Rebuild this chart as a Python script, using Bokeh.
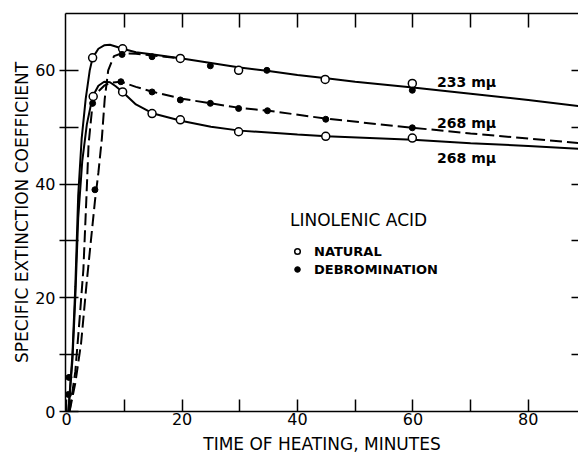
from bokeh.plotting import figure
from bokeh.models import LinearAxis, FixedTicker, Label, Legend, LegendItem, Range1d
from bokeh.embed import file_html
from bokeh.resources import INLINE

# ---------------- data ----------------
# smooth curves
c233_nat_t = [0.3, 1.0, 1.5, 2.0, 2.6, 3.3, 4.0, 4.5, 5.5, 6.5, 7.5, 8.5, 9.7, 12, 15, 20, 25, 30, 35, 40, 45, 50, 60, 70, 80, 89]
c233_nat_v = [0, 10, 22, 38, 48, 55, 60, 62.2, 63.8, 64.4, 64.5, 64.2, 63.8, 63.2, 62.8, 62.1, 61.3, 60.5, 59.9, 59.2, 58.6, 58.0, 57.0, 55.9, 54.8, 53.7]

c268_nat_t = [0.3, 1.0, 1.5, 2.0, 2.7, 3.5, 4.5, 5.5, 6.5, 7.5, 8.5, 9.7, 12, 15, 20, 25, 30, 40, 45, 60, 70, 80, 89]
c268_nat_v = [0, 9, 20, 34, 44, 50.5, 55.4, 57.3, 58.0, 57.9, 57.2, 56.2, 54.0, 52.4, 51.1, 50.1, 49.4, 48.7, 48.4, 47.8, 47.2, 46.7, 46.2]

c233_deb_t = [0.5, 1.5, 2.5, 3.5, 4.3, 4.9, 5.5, 6.1, 6.6, 7.2, 8.2, 9.6, 12, 15, 20]
c233_deb_v = [0, 5, 12, 23, 31, 37, 42, 48, 55, 60, 62.5, 63.0, 62.9, 62.6, 62.1]

c268_deb_t = [0.5, 1.5, 2.3, 2.9, 3.4, 3.8, 4.5, 5.5, 6.5, 7.5, 9.4, 12, 15, 20, 25, 30, 35, 45, 60, 70, 80, 89]
c268_deb_v = [0, 7, 17, 25, 37, 47, 54.2, 56.3, 57.3, 57.8, 58.0, 57.1, 56.2, 55.0, 54.2, 53.4, 52.9, 51.5, 49.9, 48.9, 48.0, 47.2]

# measured points
nat233_t = [4.5, 9.7, 19.7, 29.8, 44.8, 59.9]
nat233_v = [62.2, 63.8, 62.1, 60.0, 58.4, 57.7]
nat268_t = [4.6, 9.7, 14.8, 19.7, 29.8, 44.9, 59.9]
nat268_v = [55.4, 56.2, 52.4, 51.3, 49.2, 48.4, 48.1]
deb233_t = [0.4, 4.9, 9.6, 14.8, 24.9, 34.7, 59.9]
deb233_v = [6.0, 39.0, 62.8, 62.4, 60.8, 60.0, 56.5]
deb268_t = [0.3, 4.5, 9.4, 14.8, 19.7, 24.9, 29.8, 34.8, 44.9, 59.9]
deb268_v = [3.0, 54.2, 58.0, 56.2, 54.8, 54.2, 53.3, 52.9, 51.4, 49.9]

# curve labels
curve_labels = ["233 m\u03bc", "268 m\u03bc", "268 m\u03bc"]
curve_label_t = [64.2, 64.2, 64.2]
curve_label_v = [58.0, 50.8, 44.6]

# ticks (labelled ones and unlabelled ones)
x_label_ticks = [0, 20, 40, 60, 80]
x_plain_ticks = [10, 30, 50, 70]
y_label_ticks = [0, 20, 40, 60]
y_plain_ticks = [10, 30, 50]

FONT = "DejaVu Sans"
INK = "black"

p = figure(width=578, height=456, output_backend="svg", toolbar_location=None,
           x_range=Range1d(-0.2, 88.7), y_range=Range1d(0, 70),
           min_border_left=65, min_border_right=0, min_border_top=13, min_border_bottom=44,
           outline_line_color=None, background_fill_color="white", border_fill_color="white")
p.xgrid.visible = False
p.ygrid.visible = False

# bottom axis
xa = p.xaxis[0]
xa.ticker = FixedTicker(ticks=x_label_ticks, minor_ticks=x_plain_ticks)
xa.major_tick_in = 12
xa.major_tick_out = 0
xa.minor_tick_in = 12
xa.minor_tick_out = 0
xa.minor_tick_line_width = 1.5
xa.minor_tick_line_color = INK
xa.axis_line_width = 1.5
xa.axis_line_color = INK
xa.major_tick_line_width = 1.5
xa.major_tick_line_color = INK
xa.major_label_standoff = 1
xa.major_label_text_font = FONT
xa.major_label_text_font_size = "16px"
xa.major_label_text_color = INK
xa.axis_label = "TIME OF HEATING, MINUTES"
xa.axis_label_text_font = FONT
xa.axis_label_text_font_size = "17px"
xa.axis_label_text_font_style = "normal"
xa.axis_label_text_color = INK
xa.axis_label_standoff = 6

# left axis
ya = p.yaxis[0]
ya.ticker = FixedTicker(ticks=y_label_ticks, minor_ticks=y_plain_ticks)
ya.major_tick_in = 13
ya.major_tick_out = 6
ya.minor_tick_in = 13
ya.minor_tick_out = 6
ya.minor_tick_line_width = 1.5
ya.minor_tick_line_color = INK
ya.axis_line_width = 1.5
ya.axis_line_color = INK
ya.major_tick_line_width = 1.5
ya.major_tick_line_color = INK
ya.major_label_standoff = 4
ya.major_label_text_font = FONT
ya.major_label_text_font_size = "16px"
ya.major_label_text_color = INK
ya.axis_label = "SPECIFIC EXTINCTION COEFFICIENT"
ya.axis_label_text_font = FONT
ya.axis_label_text_font_size = "17px"
ya.axis_label_text_font_style = "normal"
ya.axis_label_text_color = INK
ya.axis_label_standoff = 0

# top axis (ticks only, no labels)
ta = LinearAxis(ticker=FixedTicker(ticks=[], minor_ticks=x_plain_ticks + x_label_ticks[1:]),
                major_tick_in=0, major_tick_out=0, minor_tick_in=14, minor_tick_out=0,
                minor_tick_line_width=1.5, minor_tick_line_color=INK,
                axis_line_width=1.5, axis_line_color=INK, major_label_standoff=0)
p.add_layout(ta, "above")

# right axis (ticks only, no labels, line off the page)
ra = LinearAxis(ticker=FixedTicker(ticks=[], minor_ticks=y_plain_ticks + y_label_ticks[1:]),
                major_tick_in=0, major_tick_out=0, minor_tick_in=7, minor_tick_out=0,
                minor_tick_line_width=1.5, minor_tick_line_color=INK,
                axis_line_color=None, major_label_standoff=0)
p.add_layout(ra, "right")

# curves
p.line(c233_nat_t, c233_nat_v, line_color=INK, line_width=2)
p.line(c268_nat_t, c268_nat_v, line_color=INK, line_width=2)
p.line(c233_deb_t, c233_deb_v, line_color=INK, line_width=2, line_dash="12 5")
p.line(c268_deb_t, c268_deb_v, line_color=INK, line_width=2, line_dash="12 5")

# points
r_nat = p.scatter(nat233_t + nat268_t, nat233_v + nat268_v, marker="circle", size=8,
                  fill_color="white", line_color=INK, line_width=1.5)
r_deb = p.scatter(deb233_t + deb268_t, deb233_v + deb268_v, marker="circle", size=6,
                  fill_color=INK, line_color=INK)

for txt, t, v in zip(curve_labels, curve_label_t, curve_label_v):
    p.add_layout(Label(x=t, y=v, text=txt, text_font=FONT, text_font_size="14px",
                       text_font_style="bold", text_color=INK,
                       text_baseline="middle", text_align="left"))

legend = Legend(items=[LegendItem(label="NATURAL", renderers=[r_nat]),
                       LegendItem(label="DEBROMINATION", renderers=[r_deb])],
                location=(225, 134), title="LINOLENIC ACID",
                title_text_font=FONT, title_text_font_size="17px", title_text_font_style="normal",
                title_text_color=INK, title_standoff=13,
                label_text_font=FONT, label_text_font_size="13px", label_text_font_style="bold",
                label_text_color=INK,
                glyph_width=14, glyph_height=16, label_height=16, label_standoff=10, spacing=2,
                padding=0, margin=0, border_line_color=None, background_fill_alpha=0)
p.add_layout(legend, "center")

open("out.html", "w").write(file_html(p, INLINE))
